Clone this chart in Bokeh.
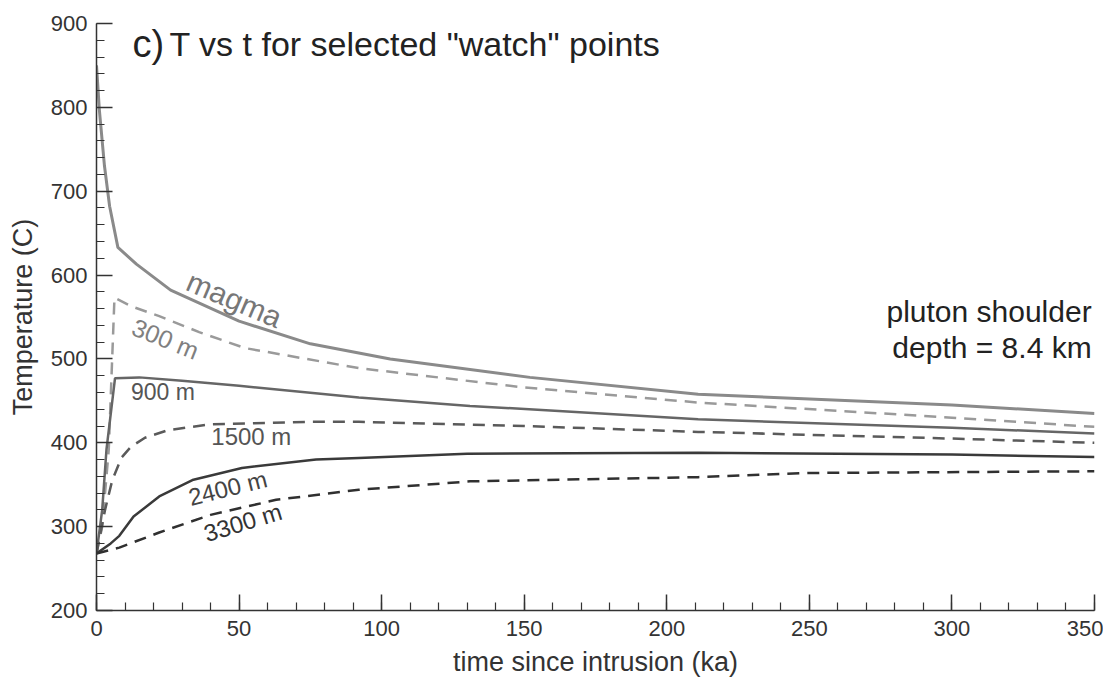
from bokeh.plotting import figure
from bokeh.models import Range1d, FixedTicker, Label
from bokeh.embed import file_html
from bokeh.resources import INLINE

# ---- data ----
magma_t = [0, 1, 2.8, 4.6, 7.5, 14, 26, 50, 75, 103, 152, 211, 300, 350]
magma_T = [850, 797, 730, 682, 633, 613, 582, 545, 518, 500, 478, 458, 445, 435]

m300_t = [0, 2, 4.3, 6.3, 12, 22, 36, 52, 92, 150, 211, 300, 350]
m300_T = [268, 300, 392, 573, 563, 551, 532, 513, 489, 466, 448, 430, 419]

m900_t = [0, 2, 3.5, 6.5, 15, 30, 50, 92, 131, 211, 300, 350]
m900_T = [268, 320, 392, 477, 478, 474, 468, 454, 444, 428, 418, 411]

m1500_t = [0, 3, 5.5, 8.7, 12, 17, 25, 40, 75, 92, 150, 211, 300, 350]
m1500_T = [268, 320, 355, 382, 395, 406, 415, 422, 425, 425, 420, 413, 405, 400]

m2400_t = [0, 5, 8, 13, 22, 34, 51, 77, 92, 130, 211, 300, 350]
m2400_T = [268, 280, 289, 312, 336, 356, 370, 380, 382, 387, 388, 386, 383]

m3300_t = [0, 8, 22, 40, 63, 92, 131, 211, 250, 350]
m3300_T = [268, 275, 293, 314, 332, 344, 354, 359, 364, 366]

x_major = [0, 50, 100, 150, 200, 250, 300, 350]
x_minor = [v for v in range(0, 351, 10)]
y_major = [200, 300, 400, 500, 600, 700, 800, 900]
y_minor = [v for v in range(200, 901, 20)]

FONT = "Liberation Sans"

p = figure(frame_width=998, frame_height=587,
           x_range=Range1d(0, 350), y_range=Range1d(200, 900),
           output_backend="svg", toolbar_location=None,
           min_border_left=96, min_border_right=9,
           min_border_top=23, min_border_bottom=61)
p.outline_line_color = None
p.xgrid.visible = False
p.ygrid.visible = False
p.background_fill_color = "white"
p.border_fill_color = "white"

p.xaxis.ticker = FixedTicker(ticks=x_major, minor_ticks=x_minor)
p.yaxis.ticker = FixedTicker(ticks=y_major, minor_ticks=y_minor)

for ax in (p.xaxis, p.yaxis):
    ax.axis_line_color = "#333333"
    ax.axis_line_width = 1.5
    ax.major_tick_line_color = "#333333"
    ax.minor_tick_line_color = "#333333"
    ax.major_tick_line_width = 1.5
    ax.minor_tick_line_width = 1.2
    ax.major_tick_in = 16
    ax.major_tick_out = 0
    ax.minor_tick_in = 8
    ax.minor_tick_out = 0
    ax.major_label_text_font = FONT
    ax.major_label_text_font_size = "22px"
    ax.major_label_text_color = "#333333"
    ax.axis_label_text_font = FONT
    ax.axis_label_text_font_size = "27px"
    ax.axis_label_text_font_style = "normal"
    ax.axis_label_text_color = "#333333"

p.xaxis.axis_label = "time since intrusion (ka)"
p.yaxis.axis_label = "Temperature (C)"
p.xaxis.major_label_standoff = 10
p.yaxis.major_label_standoff = 9
p.xaxis.axis_label_standoff = 8
p.yaxis.axis_label_standoff = 10

dash = "12 8"
p.line(magma_t, magma_T, line_color="#8a8a8a", line_width=3)
p.line(m300_t, m300_T, line_color="#9a9a9a", line_width=2.5, line_dash=dash)
p.line(m900_t, m900_T, line_color="#666666", line_width=2.5)
p.line(m1500_t, m1500_T, line_color="#5a5a5a", line_width=2.5, line_dash=dash)
p.line(m2400_t, m2400_T, line_color="#3a3a3a", line_width=2.5)
p.line(m3300_t, m3300_T, line_color="#303030", line_width=2.5, line_dash=dash)

def lab(x, y, text, size, color, angle=0.0, align="center"):
    p.add_layout(Label(x=x, y=y, text=text, text_font=FONT,
                       text_font_size=size, text_color=color,
                       angle=angle, angle_units="deg",
                       text_align=align, text_baseline="middle"))

lab(48.4, 571, "magma", "30px", "#777777", -23)
lab(24.2, 524, "300 m", "25px", "#808080", -22)
lab(23.3, 460, "900 m", "23px", "#555555")
lab(54.3, 408, "1500 m", "24px", "#555555")
lab(46, 346, "2400 m", "24px", "#444444", 14)
lab(51.3, 305, "3300 m", "24px", "#333333", 17)

lab(12.6, 875, "c)", "38px", "#222222", align="left")
lab(25.6, 876, "T vs t for selected \"watch\" points", "34px", "#222222", align="left")
lab(349, 557, "pluton shoulder", "30px", "#222222", align="right")
lab(349, 514, "depth = 8.4 km", "30px", "#222222", align="right")

open("out.html", "w").write(file_html(p, INLINE))
